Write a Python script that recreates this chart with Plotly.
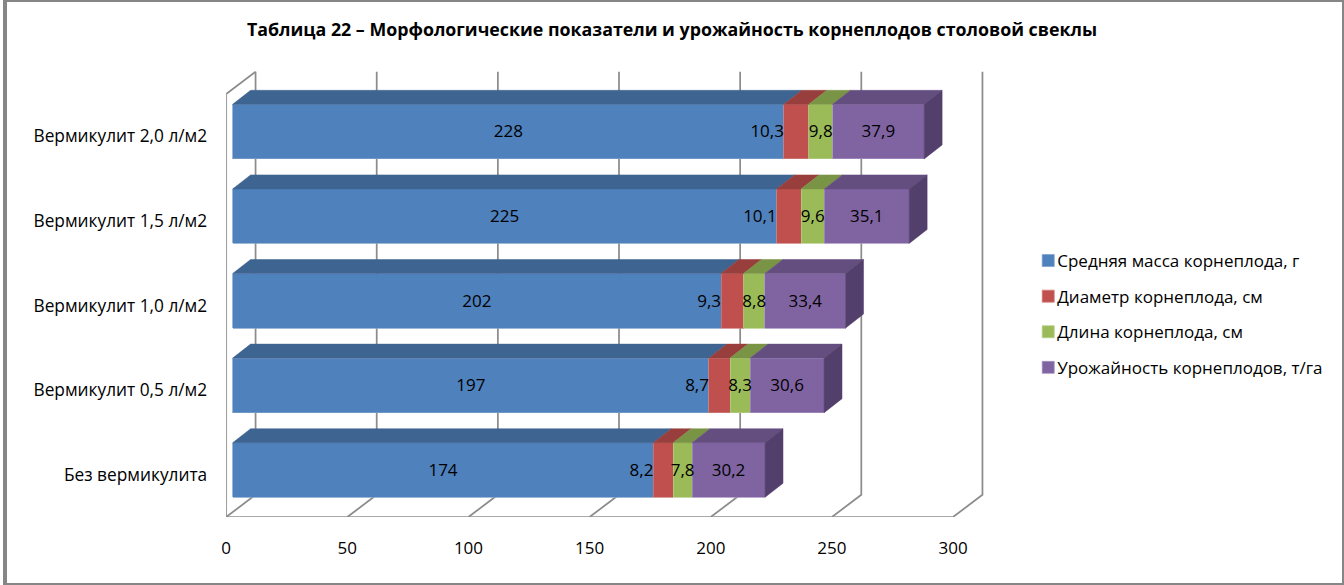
import plotly.graph_objects as go

# ---- data ----
categories = ["Без вермикулита", "Вермикулит 0,5 л/м2", "Вермикулит 1,0 л/м2",
              "Вермикулит 1,5 л/м2", "Вермикулит 2,0 л/м2"]
mass = [174, 197, 202, 225, 228]
diameter = [8.2, 8.7, 9.3, 10.1, 10.3]
length = [7.8, 8.3, 8.8, 9.6, 9.8]
yield_ = [30.2, 30.6, 33.4, 35.1, 37.9]
series_names = ["Средняя масса корнеплода, г", "Диаметр корнеплода, см",
                "Длина корнеплода, см", "Урожайность корнеплодов, т/га"]
tick_values = [0, 50, 100, 150, 200, 250, 300]
title = "Таблица 22 – Морфологические показатели и урожайность корнеплодов столовой свеклы"

# ---- style ----
W, H = 1344, 585
FONT = "Open Sans"
colors = ["#4F81BD", "#C0504D", "#9BBB59", "#8064A2"]
top_colors = ["#3E6491", "#983F3D", "#7A9446", "#644E80"]
side_color = "#533F6B"
edge_colors = ["#7C9FCB", "#CF7E7C", "#B5CE85", "#A48FC0"]
wall = "#8C8C8C"
LEFT, RIGHT, BOTTOM, TOP = 222, 998, 517, 60
SX, SY = 2.432, 84.6
SX_BAR = 2.427
BAR_W = 0.645

all_series = [mass, diameter, length, yield_]
positions = list(range(len(categories)))
fig = go.Figure()

# walls and grid, on the front-plane axes
wall_dx, wall_dy = 29.5 / SX, 22.2 / SY
ytop = 4.5
gx, gy = [], []
for t in tick_values:
    gx += [t, t + wall_dx, t + wall_dx, None]
    gy += [-0.5, -0.5 + wall_dy, ytop + wall_dy, None]
gx += [0, 300, None, 0, 0, wall_dx]
gy += [-0.5, -0.5, None, -0.5, ytop, ytop + wall_dy]
fig.add_trace(go.Scatter(x=gx, y=gy, mode="lines", showlegend=False, hoverinfo="skip",
                         line=dict(color=wall, width=1.75), xaxis="x", yaxis="y"))

# bars, on the bar-plane axes
for name, vals, col, edge in zip(series_names, all_series, colors, edge_colors):
    fig.add_trace(go.Bar(y=positions, x=vals, name=name, orientation="h", width=BAR_W,
                         marker=dict(color=col, line=dict(color=edge, width=0.75)),
                         legendgroup=name, hoverinfo="skip", xaxis="x2", yaxis="y2"))

# depth faces
dep_x, dep_y = 18 / SX_BAR, 14 / SY
starts = [0.0] * len(categories)
for vals, tc in zip(all_series, top_colors):
    px_, py_ = [], []
    for i, v in enumerate(vals):
        s, e, t = starts[i], starts[i] + v, i + BAR_W / 2
        px_ += [s, e, e + dep_x, s + dep_x, s, None]
        py_ += [t, t, t + dep_y, t + dep_y, t, None]
        starts[i] = e
    fig.add_trace(go.Scatter(x=px_, y=py_, fill="toself", fillcolor=tc, mode="lines",
                             line=dict(width=0.5, color=tc), showlegend=False, hoverinfo="skip",
                             xaxis="x2", yaxis="y2"))
sx_, sy_ = [], []
for i, e in enumerate(starts):
    t, b = i + BAR_W / 2, i - BAR_W / 2
    sx_ += [e, e + dep_x, e + dep_x, e, e, None]
    sy_ += [t, t + dep_y, b + dep_y, b, t, None]
fig.add_trace(go.Scatter(x=sx_, y=sy_, fill="toself", fillcolor=side_color, mode="lines",
                         line=dict(width=0.5, color=side_color), showlegend=False, hoverinfo="skip",
                         xaxis="x2", yaxis="y2"))

# data labels
fmt = lambda v: str(v).replace(".", ",")
starts = [0.0] * len(categories)
for k, vals in enumerate(all_series):
    xs = [s + (0 if k == 1 else v / 2) for s, v in zip(starts, vals)]
    fig.add_trace(go.Scatter(x=xs, y=[p - 0.018 for p in positions], mode="text",
                             text=[fmt(v) for v in vals],
                             textposition="middle left" if k == 1 else "middle center",
                             textfont=dict(family=FONT, size=17, color="#000000"),
                             showlegend=False, hoverinfo="skip", cliponaxis=False,
                             xaxis="x2", yaxis="y2"))
    starts = [s + v for s, v in zip(starts, vals)]

span_x = RIGHT - LEFT
span_y = BOTTOM - TOP
dom_x = [LEFT / W, RIGHT / W]
dom_y = [1 - BOTTOM / H, 1 - TOP / H]
r0_x2 = -6.5 / SX_BAR
r0_y2 = -47 / SY

fig.update_layout(
    width=W, height=H, margin=dict(l=0, r=0, t=0, b=0),
    paper_bgcolor="white", plot_bgcolor="rgba(0,0,0,0)", barmode="stack", bargap=0.35,
    font=dict(family=FONT, size=17, color="#000000"),
    title=dict(text=f"<b>{title}</b>", x=672 / W, xanchor="center", y=1 - 30 / H, yanchor="middle",
               font=dict(family=FONT, size=17.8, color="#000000")),
    xaxis=dict(domain=dom_x, range=[0, span_x / SX], tickmode="array", tickvals=tick_values,
               showgrid=False, zeroline=False, showline=False, ticks="", ticklabelstandoff=19,
               anchor="y"),
    yaxis=dict(domain=dom_y, range=[-0.5, -0.5 + span_y / SY], tickmode="array",
               tickvals=positions, ticktext=categories, showgrid=False, zeroline=False,
               showline=False, ticks="", ticklabelstandoff=18, anchor="x",
               tickfont=dict(family=FONT, size=17.3, color="#000000")),
    xaxis2=dict(domain=dom_x, range=[r0_x2, r0_x2 + span_x / SX_BAR], overlaying="x", visible=False,
                anchor="y2"),
    yaxis2=dict(domain=dom_y, range=[r0_y2, r0_y2 + span_y / SY], overlaying="y", visible=False,
                anchor="x2"),
    legend=dict(x=1016 / W, xanchor="left", y=1 - 243 / H, yanchor="top", traceorder="grouped",
                tracegroupgap=10.5, itemwidth=30, bgcolor="rgba(0,0,0,0)",
                font=dict(family=FONT, size=17, color="#000000")),
    shapes=[dict(type="rect", xref="paper", yref="paper", x0=0, x1=1, y0=0, y1=1,
                 line=dict(color="#868686", width=4), fillcolor="rgba(0,0,0,0)")],
)
# move the legend swatches next to their labels, as in the reference
post = """
document.body.style.margin='0';
document.querySelectorAll('.legendsymbols').forEach(function(n){
  n.setAttribute('transform', 'translate(11,0)');
});
"""
fig.write_html("out.html", config={"displayModeBar": False}, post_script=post)
